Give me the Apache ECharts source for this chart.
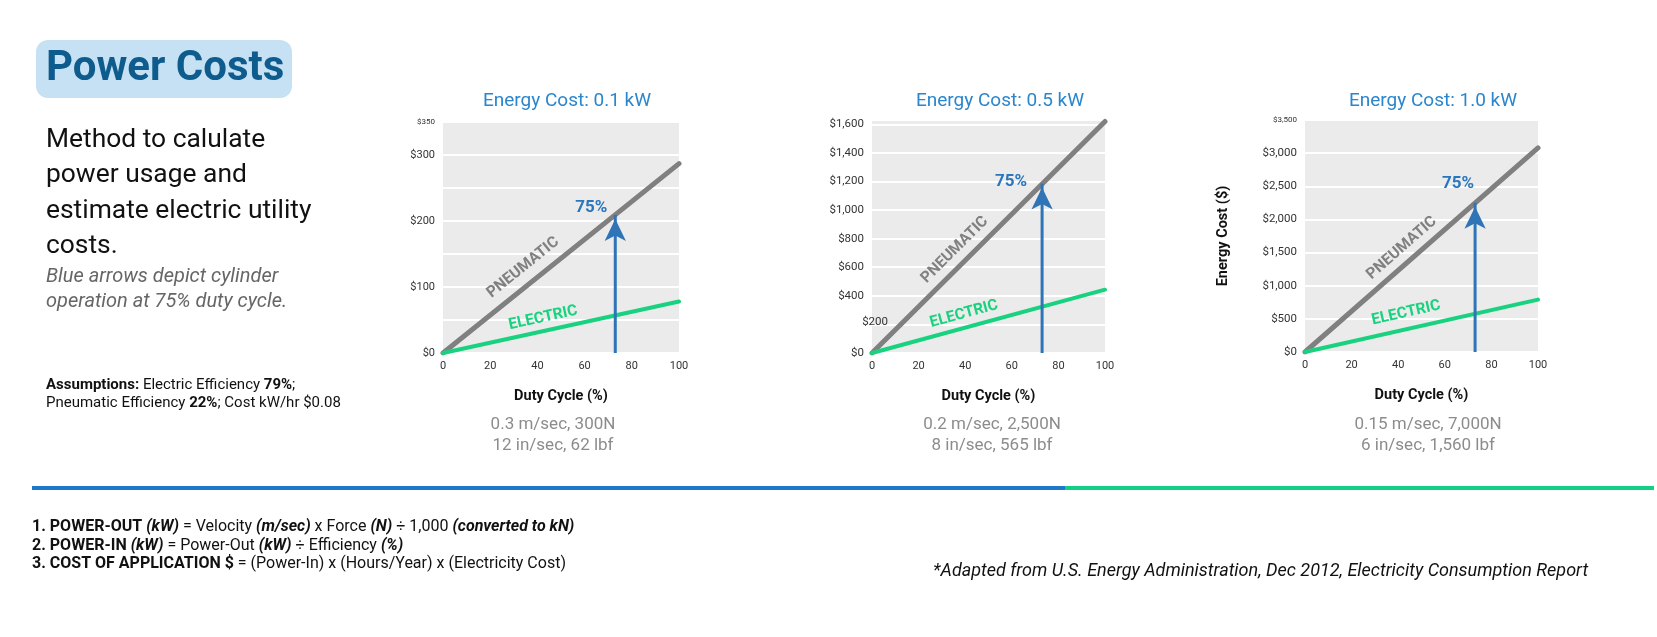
<!DOCTYPE html>
<html lang="en">
<head>
<meta charset="UTF-8">
<title>Power Costs</title>
<script src="https://cdn.jsdelivr.net/npm/echarts/dist/echarts.min.js"></script>
<style>
  * { margin: 0; padding: 0; }
  body { background: #fff; }
  #main { width: 1657px; height: 637px; }
</style>
</head>
<body>
<div id="main"></div>
<script>
// data: yearly cost ($) at 0% and 100% duty cycle
var duty = [0, 100];
var chartTitles = ['Energy Cost: 0.1 kW', 'Energy Cost: 0.5 kW', 'Energy Cost: 1.0 kW'];
var pneumaticCost = [[0, 287], [0, 1620], [0, 3080]];
var electricCost = [[0, 78], [0, 443], [0, 790]];
var arrowDuty = 73;
var arrowTop = [209, 1185, 2250];
var yMax = [350, 1630, 3500];
var yStep = [50, 200, 500];
var yLabelStep = [100, 200, 500];
var xStep = 20;
var metricText = ['0.3 m/sec, 300N', '0.2 m/sec, 2,500N', '0.15 m/sec, 7,000N'];
var imperialText = ['12 in/sec, 62 lbf', '8 in/sec, 565 lbf', '6 in/sec, 1,560 lbf'];

// layout
var grids = [
  { left: 443, top: 122, width: 236, height: 231 },
  { left: 872, top: 120, width: 233, height: 233 },
  { left: 1305, top: 120, width: 233, height: 232 }
];
var titleX = [562, 995, 1428];
var subX = [553, 992, 1428];
var yLabelSize = [11, 11.5, 11.5];
var pneuLabelAt = [38.3, 40.0, 45.6], pneuLabelOff = [16.5, 14.7, 14.3];
var elecLabelAt = [43.6, 41.0, 44.9], elecLabelOff = [12.9, 13.5, 15.9];
var pctOffset = [[-24, -7], [-31, -2], [-17, -19]];

var GREY = '#808080', GREEN = '#19d27f', BLUE = '#2e74b7';

function money(v) { return '$' + v.toLocaleString('en-US'); }

var chart = echarts.init(document.getElementById('main'));

var xAxes = [], yAxes = [], series = [], titles = [];
grids.forEach(function (g, i) {
  titles.push({
    text: chartTitles[i], left: titleX[i], top: 87, textAlign: 'center',
    textStyle: { fontSize: 19, fontWeight: 'normal', color: '#2a86cd', fontFamily: 'Roboto' }
  });
  xAxes.push({
    type: 'value', gridIndex: i, min: 0, max: 100, interval: xStep,
    axisLine: { show: false }, axisTick: { show: false }, splitLine: { show: false },
    axisLabel: { color: '#333', fontSize: 11, margin: 8 },
    name: 'Duty Cycle (%)', nameLocation: 'middle', nameGap: 36,
    nameTextStyle: { color: '#111', fontSize: 14.5, fontWeight: 'bold' }
  });
  yAxes.push({
    type: 'value', gridIndex: i, min: 0, max: yMax[i], interval: yStep[i],
    axisLine: { show: false }, axisTick: { show: false },
    splitLine: { lineStyle: { color: '#ffffff', width: 2 } },
    axisLabel: {
      color: '#333', fontSize: yLabelSize[i], margin: 8,
      formatter: function (v) {
        if (i === 0 && v === 350) return '{s|$350}';
        if (i === 2 && v === 3500) return '{s|$3,500}';
        if (i === 1 && v === 200) return '';
        return v % yLabelStep[i] === 0 ? money(v) : '';
      },
      rich: { s: { fontSize: 8, color: '#333' } }
    },
    name: i === 2 ? 'Energy Cost ($)' : '', nameLocation: 'middle', nameGap: 74,
    nameTextStyle: { color: '#111', fontSize: 14.5, fontWeight: 'bold' }
  });
  series.push({
    type: 'line', xAxisIndex: i, yAxisIndex: i, symbol: 'none', silent: true, z: 3,
    lineStyle: { color: GREY, width: 5, cap: 'round' },
    data: duty.map(function (d, k) { return [d, pneumaticCost[i][k]]; })
  });
  series.push({
    type: 'line', xAxisIndex: i, yAxisIndex: i, symbol: 'none', silent: true, z: 3,
    lineStyle: { color: GREEN, width: 4, cap: 'round' },
    data: duty.map(function (d, k) { return [d, electricCost[i][k]]; })
  });
  series.push({
    type: 'line', xAxisIndex: i, yAxisIndex: i, silent: true, z: 5, showSymbol: true,
    lineStyle: { color: BLUE, width: 3 }, itemStyle: { color: BLUE },
    data: [
      { value: [arrowDuty, 0], symbol: 'none' },
      { value: [arrowDuty, arrowTop[i]], symbol: 'arrow', symbolSize: [16, 22], symbolOffset: [0, 4] }
    ]
  });
});

chart.setOption({
  animation: false,
  backgroundColor: '#ffffff',
  textStyle: { fontFamily: 'Roboto' },
  title: titles,
  grid: grids.map(function (g) {
    return { left: g.left, top: g.top, width: g.width, height: g.height, show: true,
             backgroundColor: '#ebebeb', borderWidth: 0 };
  }),
  xAxis: xAxes,
  yAxis: yAxes,
  series: series
});

// static texts
var graphic = [
  { type: 'rect', shape: { x: 36, y: 40, width: 256, height: 58, r: 12 }, style: { fill: '#c6e1f3' } },
  { type: 'text', x: 46, y: 69, style: { text: 'Power Costs', font: 'bold 42px Roboto', fill: '#0e5b8d', verticalAlign: 'middle' } }
];
['Method to calulate', 'power usage and', 'estimate electric utility', 'costs.'].forEach(function (t, k) {
  graphic.push({ type: 'text', x: 46, y: 140 + k * 35.5,
    style: { text: t, font: '26.4px Roboto', fill: '#111', verticalAlign: 'middle' } });
});
['Blue arrows depict cylinder', 'operation at 75% duty cycle.'].forEach(function (t, k) {
  graphic.push({ type: 'text', x: 46, y: 277 + k * 25,
    style: { text: t, font: 'italic 20px Roboto', fill: '#666', verticalAlign: 'middle' } });
});
function richSet(size) {
  return {
    b: { fontWeight: 'bold', fontSize: size, fontFamily: 'Roboto', fill: '#111' },
    bi: { fontWeight: 'bold', fontStyle: 'italic', fontSize: size, fontFamily: 'Roboto', fill: '#111' }
  };
}
['{b|Assumptions:} Electric Efficiency {b|79%};', 'Pneumatic Efficiency {b|22%}; Cost kW/hr $0.08'].forEach(function (t, k) {
  graphic.push({ type: 'text', x: 46, y: 385 + k * 18,
    style: { text: t, font: '15px Roboto', fill: '#111', verticalAlign: 'middle', rich: richSet(15) } });
});
grids.forEach(function (g, i) {
  graphic.push({ type: 'text', x: subX[i], y: 425,
    style: { text: metricText[i], font: '17px Roboto', fill: '#8c8c8c', align: 'center', verticalAlign: 'middle' } });
  graphic.push({ type: 'text', x: subX[i], y: 446,
    style: { text: imperialText[i], font: '17px Roboto', fill: '#8c8c8c', align: 'center', verticalAlign: 'middle' } });
});
graphic.push({ type: 'rect', shape: { x: 32, y: 486, width: 1033, height: 4 }, style: { fill: '#1e78c8' } });
graphic.push({ type: 'rect', shape: { x: 1065, y: 486, width: 589, height: 4 }, style: { fill: '#12cf83' } });
var formulas = [
  '{b|1. POWER-OUT }{bi|(kW)} = Velocity {bi|(m/sec)} x Force {bi|(N)} ÷ 1,000 {bi|(converted to kN)}',
  '{b|2. POWER-IN }{bi|(kW)} = Power-Out {bi|(kW)} ÷ Efficiency {bi|(%)}',
  '{b|3. COST OF APPLICATION $} = (Power-In) x (Hours/Year) x (Electricity Cost)'
];
formulas.forEach(function (t, k) {
  graphic.push({ type: 'text', x: 32, y: 527 + k * 18.5,
    style: { text: t, font: '16px Roboto', fill: '#111', verticalAlign: 'middle', rich: richSet(16) } });
});
graphic.push({ type: 'text', x: 933, y: 571,
  style: { text: '*Adapted from U.S. Energy Administration, Dec 2012, Electricity Consumption Report',
           font: 'italic 18px Roboto', fill: '#111', verticalAlign: 'middle' } });

// labels that follow the lines, placed through the axes' own scales
function lineLabel(i, costs, at, off, text, color) {
  var p0 = chart.convertToPixel({ gridIndex: i }, [duty[0], costs[0]]);
  var p1 = chart.convertToPixel({ gridIndex: i }, [duty[1], costs[1]]);
  var a = Math.atan2(p0[1] - p1[1], p1[0] - p0[0]);
  var t = (at - duty[0]) / (duty[1] - duty[0]);
  var cx = p0[0] + (p1[0] - p0[0]) * t, cy = p0[1] + (p1[1] - p0[1]) * t;
  return { type: 'text', x: cx - Math.sin(a) * off, y: cy - Math.cos(a) * off, rotation: a, z: 10,
    style: { text: text, font: 'bold 15.5px Roboto', fill: color, align: 'center', verticalAlign: 'middle' } };
}
grids.forEach(function (g, i) {
  graphic.push(lineLabel(i, pneumaticCost[i], pneuLabelAt[i], pneuLabelOff[i], 'PNEUMATIC', GREY));
  graphic.push(lineLabel(i, electricCost[i], elecLabelAt[i], elecLabelOff[i], 'ELECTRIC', GREEN));
  var tip = chart.convertToPixel({ gridIndex: i }, [arrowDuty, arrowTop[i]]);
  graphic.push({ type: 'text', x: tip[0] + pctOffset[i][0], y: tip[1] + pctOffset[i][1], z: 10,
    style: { text: '75%', font: 'bold 17px Roboto', fill: '#2a76bd', align: 'center', verticalAlign: 'middle' } });
});
// the $200 tick of the middle chart sits nudged right in the original
var p200 = chart.convertToPixel({ gridIndex: 1 }, [0, 200]);
graphic.push({ type: 'text', x: p200[0] + 16, y: p200[1] - 2, z: 10,
  style: { text: money(200), font: '11.5px Roboto', fill: '#333', align: 'right', verticalAlign: 'middle' } });

chart.setOption({ graphic: graphic });
</script>
</body>
</html>
